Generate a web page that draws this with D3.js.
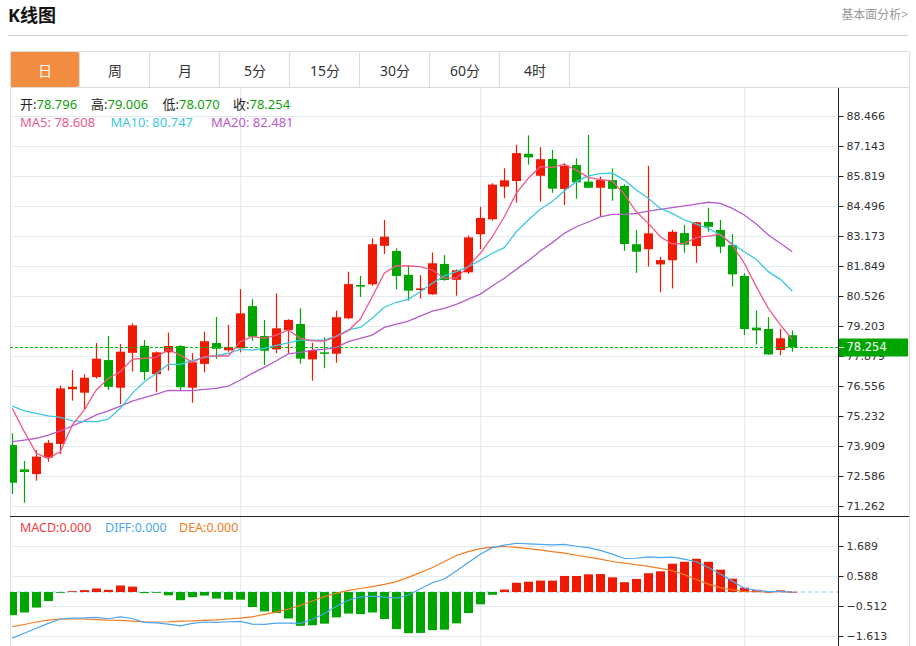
<!DOCTYPE html>
<html><head><meta charset="utf-8">
<script src="https://cdn.jsdelivr.net/npm/d3@7"></script>
<style>
body{margin:0;background:#fff;}
svg{display:block;font-family:"Noto Sans","Noto Sans CJK SC",sans-serif;}
</style></head><body>
<svg id="c" width="916" height="646"></svg>
<script>
// ---------- data ----------
const tabs = ["日","周","月","5分","15分","30分","60分","4时"];
const priceTicks = [88.466,87.143,85.819,84.496,83.173,81.849,80.526,79.203,77.879,76.556,75.232,73.909,72.586,71.262];
const macdTicks = [1.689,0.588,-0.512,-1.613];
const gridIdx = [19,39,61];
const lastPrice = 78.254;
const legendOHLC = [["开","78.796"],["高","79.006"],["低","78.070"],["收","78.254"]];
const legendMA = [["MA5: 78.608"],["MA10: 80.747"],["MA20: 82.481"]];
const legendMACD = [["MACD:0.000"],["DIFF:0.000"],["DEA:0.000"]];

const open = [73.95,72.88,72.67,73.39,74.00,76.41,76.26,76.95,77.70,76.48,
  78.02,78.33,77.08,78.04,78.32,76.48,77.53,78.45,78.13,78.22,
  80.08,78.76,78.17,79.02,79.29,77.73,78.04,77.98,79.54,81.01,
  81.04,82.74,82.51,81.46,80.79,80.60,81.94,81.24,81.57,83.25,
  83.91,85.35,85.60,86.80,85.83,86.57,85.25,86.30,85.57,85.30,
  85.64,85.38,82.81,82.59,81.92,82.10,83.30,82.73,83.79,83.44,
  82.77,81.41,79.13,79.07,78.14,78.796];
const close = [72.29,72.76,73.44,74.05,76.45,76.52,76.92,77.76,76.52,78.07,
  79.23,77.17,78.04,78.32,76.50,77.60,78.53,78.20,78.28,79.76,
  78.73,78.11,79.10,79.47,77.76,78.14,77.98,79.59,81.05,80.94,
  82.81,83.14,81.41,80.76,80.86,81.97,81.23,81.66,83.11,83.97,
  85.44,85.63,86.83,86.64,86.56,85.26,86.27,85.54,85.30,85.64,
  85.25,82.82,82.48,83.29,82.11,83.36,82.79,83.78,83.58,82.70,
  81.48,79.07,79.01,77.95,78.66,78.254];
const high = [74.47,73.25,73.73,74.17,76.57,77.26,77.07,78.46,78.76,78.41,
  79.32,78.58,78.08,78.91,78.36,78.00,78.95,79.60,79.25,80.83,
  80.38,79.47,80.64,79.50,79.98,78.46,78.70,79.88,81.60,81.41,
  83.07,83.88,82.63,81.88,81.44,82.45,82.33,81.70,83.19,84.46,
  85.50,86.16,87.19,87.61,87.09,86.97,86.38,86.60,87.63,85.79,
  86.16,85.45,83.44,86.27,82.26,83.44,83.66,83.80,84.42,83.88,
  83.26,81.53,79.88,79.59,79.07,79.006];
const low = [71.79,71.41,72.38,73.21,73.55,75.91,75.53,76.88,76.38,75.76,
  77.19,76.82,76.30,77.23,76.35,75.82,77.16,77.76,78.07,78.04,
  78.55,77.48,78.00,78.00,77.54,76.79,77.34,77.58,79.50,80.49,
  80.98,82.38,80.82,80.32,80.41,80.58,81.20,80.54,81.50,82.60,
  83.85,84.84,84.64,86.32,84.69,85.08,84.54,84.82,85.28,84.02,
  84.73,82.52,81.55,81.82,80.69,80.86,82.44,81.99,83.36,82.41,
  80.94,78.80,78.39,77.93,77.91,78.070];
const ma5 = [75.57,74.54,73.59,73.36,73.66,74.83,75.50,76.38,76.89,77.19,
  77.73,77.78,77.82,78.17,77.92,77.60,77.85,77.88,77.88,78.51,
  78.73,78.66,78.80,79.03,78.66,78.55,78.54,78.73,78.99,79.51,
  80.49,81.53,81.86,81.85,81.82,81.67,81.31,81.31,81.82,82.41,
  83.14,84.02,85.06,85.72,86.23,86.20,86.34,86.08,85.76,85.66,
  85.60,85.02,84.24,83.73,83.14,82.82,82.85,83.10,83.17,83.25,
  82.77,81.97,80.94,79.98,79.25,78.608];
const ma10 = [75.67,75.46,75.35,75.24,75.17,75.02,74.98,74.98,75.09,75.57,
  76.23,76.74,77.11,77.51,77.51,77.67,77.82,77.89,78.00,78.17,
  78.14,78.22,78.35,78.46,78.58,78.58,78.58,78.76,79.03,79.14,
  79.54,80.03,80.25,80.38,80.71,81.09,81.41,81.60,81.82,82.11,
  82.41,82.66,83.36,83.88,84.35,84.69,85.16,85.57,85.82,85.92,
  85.94,85.64,85.20,84.84,84.39,84.17,83.88,83.70,83.51,83.22,
  82.82,82.48,82.14,81.60,81.26,80.747];
const ma20 = [74.10,74.17,74.25,74.39,74.58,74.79,75.02,75.28,75.46,75.67,
  75.89,76.04,76.20,76.36,76.35,76.35,76.41,76.45,76.55,76.82,
  77.11,77.38,77.67,77.97,78.04,78.14,78.17,78.26,78.51,78.66,
  78.80,79.14,79.29,79.42,79.64,79.86,79.98,80.16,80.39,80.61,
  80.97,81.31,81.70,82.08,82.51,82.88,83.29,83.58,83.79,84.02,
  84.13,84.13,84.17,84.27,84.35,84.42,84.50,84.58,84.66,84.61,
  84.39,84.10,83.70,83.22,82.85,82.481];
const macd = [-0.85,-0.75,-0.57,-0.33,-0.02,0.03,0.07,0.13,0.08,0.24,
  0.20,-0.04,-0.02,-0.12,-0.30,-0.19,-0.13,-0.24,-0.28,-0.28,
  -0.55,-0.71,-0.77,-0.97,-1.24,-1.22,-1.16,-0.93,-0.79,-0.81,
  -0.75,-0.99,-1.36,-1.51,-1.50,-1.40,-1.38,-1.15,-0.77,-0.45,
  -0.10,0.09,0.34,0.38,0.42,0.42,0.59,0.59,0.65,0.66,
  0.54,0.36,0.48,0.69,0.76,1.04,1.11,1.22,1.11,0.82,
  0.49,0.16,0.08,0.01,0.06,0.01];
const diff = [-1.69,-1.51,-1.33,-1.15,-0.99,-0.96,-0.95,-0.93,-0.98,-0.91,
  -0.97,-1.11,-1.13,-1.18,-1.24,-1.15,-1.10,-1.11,-1.09,-1.08,
  -1.18,-1.19,-1.14,-1.14,-1.15,-1.01,-0.79,-0.52,-0.30,-0.19,
  -0.15,-0.19,-0.22,-0.12,0.12,0.34,0.48,0.77,1.08,1.39,
  1.63,1.72,1.79,1.77,1.75,1.73,1.75,1.68,1.63,1.53,
  1.39,1.23,1.24,1.29,1.26,1.28,1.21,1.11,0.90,0.66,
  0.40,0.14,0.06,0.02,0.02,0.00];
const dea = [-1.27,-1.19,-1.10,-1.03,-0.99,-0.99,-0.99,-1.01,-1.03,-1.04,
  -1.07,-1.10,-1.10,-1.09,-1.07,-1.06,-1.04,-1.02,-0.99,-0.96,
  -0.91,-0.82,-0.74,-0.63,-0.49,-0.33,-0.17,-0.05,0.06,0.13,
  0.20,0.28,0.38,0.54,0.71,0.90,1.12,1.34,1.48,1.59,
  1.65,1.67,1.64,1.59,1.55,1.48,1.43,1.35,1.28,1.21,
  1.12,1.06,1.00,0.94,0.87,0.78,0.64,0.46,0.29,0.16,
  0.08,0.02,0.01,0.01,0.01,0.00];

// ---------- layout ----------
const C = {red:"#f01a02", green:"#00a600", ma5:"#f0588a", ma10:"#3cc8e2", ma20:"#b65bcd",
  diff:"#4ba6ee", dea:"#f47b20", grid:"#e2eaf2", frame:"#dcdcdc"};
const L=10, AX=838, FR=909, TOP=88, MB=516, BOT=646;
const idx = open.map((d,i)=>i);
const candles = idx.map(i=>({i, o:open[i], h:high[i], l:low[i], c:close[i]}));

const svg = d3.select("#c");
const x = d3.scaleLinear().domain([0, open.length-1]).range([12.3, 792.3]);
const yP = d3.scaleLinear().domain([71.262, 88.466]).range([506, 116]);
const yM = d3.scaleLinear().domain([-1.613, 1.689]).range([636, 546]);
const BW = 9;

const defs = svg.append("defs");
defs.append("clipPath").attr("id","cm").append("rect").attr("x",L).attr("y",TOP).attr("width",AX-L).attr("height",MB-TOP);
defs.append("clipPath").attr("id","cd").append("rect").attr("x",L).attr("y",MB+1).attr("width",AX-L).attr("height",BOT-MB);

// header
svg.append("text").attr("x",8).attr("y",15).attr("dominant-baseline","central")
  .attr("font-size",18).attr("font-weight","bold").attr("fill","#111").text("K线图");
svg.append("text").attr("x",908).attr("y",14).attr("dominant-baseline","central").attr("text-anchor","end")
  .attr("font-size",12).attr("fill","#999").text("基本面分析>");
svg.append("line").attr("x1",8).attr("x2",908).attr("y1",35.5).attr("y2",35.5).attr("stroke","#cfcfcf");

// tabs
const tabW = 70, tabTop = 52;
svg.append("line").attr("x1",L).attr("x2",FR).attr("y1",tabTop-0.5).attr("y2",tabTop-0.5).attr("stroke",C.frame);
svg.append("rect").attr("x",L).attr("y",tabTop).attr("width",tabW-1).attr("height",TOP-tabTop-1)
  .attr("rx",2).attr("fill","#f28c40");
const tg = svg.append("g").selectAll("g").data(tabs).join("g");
tg.filter((d,i)=>i>0).append("line")
  .attr("x1",(d,i)=>L+tabW*(i+1)-0.5).attr("x2",(d,i)=>L+tabW*(i+1)-0.5)
  .attr("y1",tabTop).attr("y2",TOP).attr("stroke",C.frame);
svg.append("line").attr("x1",L+tabW*tabs.length-0.5).attr("x2",L+tabW*tabs.length-0.5)
  .attr("y1",tabTop).attr("y2",TOP).attr("stroke",C.frame);
tg.append("text").attr("x",(d,i)=>L+tabW*i+tabW/2).attr("y",70).attr("dominant-baseline","central")
  .attr("text-anchor","middle").attr("font-size",14).attr("fill",(d,i)=>i===0?"#fff":"#333").text(d=>d);

// frame
svg.append("line").attr("x1",L).attr("x2",FR).attr("y1",TOP-0.5).attr("y2",TOP-0.5).attr("stroke",C.frame);
svg.append("line").attr("x1",L+0.5).attr("x2",L+0.5).attr("y1",tabTop).attr("y2",BOT).attr("stroke","#d8e2ec");
svg.append("line").attr("x1",FR+0.5).attr("x2",FR+0.5).attr("y1",tabTop).attr("y2",BOT).attr("stroke",C.frame);

// grids
const gm = svg.append("g");
gm.selectAll(".hg").data(priceTicks).join("line")
  .attr("x1",L).attr("x2",AX).attr("y1",d=>Math.round(yP(d))+0.5).attr("y2",d=>Math.round(yP(d))+0.5)
  .attr("stroke",C.grid);
gm.selectAll(".hm").data(macdTicks).join("line")
  .attr("x1",L).attr("x2",AX).attr("y1",d=>Math.round(yM(d))+0.5).attr("y2",d=>Math.round(yM(d))+0.5)
  .attr("stroke",C.grid);
gm.selectAll(".vg").data(gridIdx).join("line")
  .attr("x1",d=>Math.round(x(d))+0.5).attr("x2",d=>Math.round(x(d))+0.5).attr("y1",TOP).attr("y2",BOT)
  .attr("stroke",C.grid);

// main panel
const main = svg.append("g").attr("clip-path","url(#cm)");
const cg = main.selectAll("g.cd").data(candles).join("g");
cg.append("line")
  .attr("x1",d=>Math.round(x(d.i))+0.5).attr("x2",d=>Math.round(x(d.i))+0.5)
  .attr("y1",d=>yP(d.h)).attr("y2",d=>yP(d.l))
  .attr("stroke",d=>d.c>=d.o?C.red:C.green).attr("stroke-width",1.2);
cg.append("rect")
  .attr("x",d=>Math.round(x(d.i))+0.5-BW/2).attr("width",BW)
  .attr("y",d=>yP(Math.max(d.o,d.c)))
  .attr("height",d=>Math.max(1.5, yP(Math.min(d.o,d.c))-yP(Math.max(d.o,d.c))))
  .attr("fill",d=>d.c>=d.o?C.red:C.green);

const lpY = Math.floor(yP(lastPrice))+0.5;
main.append("line").attr("x1",L).attr("x2",AX).attr("y1",lpY).attr("y2",lpY)
  .attr("stroke","#00c000").attr("stroke-width",1).attr("stroke-dasharray","3,2")
  .attr("shape-rendering","crispEdges");

const lineP = arr => d3.line().x((d,i)=>x(i)).y(d=>yP(d))(arr);
[[ma20,C.ma20],[ma10,C.ma10],[ma5,C.ma5]].forEach(([a,col])=>{
  main.append("path").attr("d",lineP(a)).attr("fill","none").attr("stroke",col).attr("stroke-width",1.3);
});

// macd panel
const mg = svg.append("g").attr("clip-path","url(#cd)");
mg.append("line").attr("x1",L).attr("x2",AX).attr("y1",yM(0)).attr("y2",yM(0))
  .attr("stroke","#b0def2").attr("stroke-width",1.5).attr("stroke-dasharray","4,3");
mg.selectAll("rect.b").data(macd).join("rect")
  .attr("x",(d,i)=>Math.round(x(i))+0.5-BW/2).attr("width",BW)
  .attr("y",d=>Math.min(yM(d),yM(0)))
  .attr("height",d=>Math.max(0.8, Math.abs(yM(d)-yM(0))))
  .attr("fill",d=>d>=0?C.red:C.green);
const lineM = arr => d3.line().x((d,i)=>x(i)).y(d=>yM(d))(arr);
mg.append("path").attr("d",lineM(dea)).attr("fill","none").attr("stroke",C.dea).attr("stroke-width",1.2);
mg.append("path").attr("d",lineM(diff)).attr("fill","none").attr("stroke",C.diff).attr("stroke-width",1.2);

// panel separator & axis line
svg.append("line").attr("x1",L).attr("x2",FR).attr("y1",MB+0.5).attr("y2",MB+0.5).attr("stroke","#222");
svg.append("line").attr("x1",AX+0.5).attr("x2",AX+0.5).attr("y1",TOP).attr("y2",BOT).attr("stroke","#222");

// axes
const axP = svg.append("g").attr("transform",`translate(${AX+0.5},0)`)
  .call(d3.axisRight(yP).tickValues(priceTicks).tickSize(5).tickPadding(3).tickFormat(d3.format(".3f")));
const axM = svg.append("g").attr("transform",`translate(${AX+0.5},0)`)
  .call(d3.axisRight(yM).tickValues(macdTicks).tickSize(5).tickPadding(3).tickFormat(d3.format(".3f")));
[axP,axM].forEach(a=>{
  a.select(".domain").remove();
  a.selectAll("line").attr("stroke","#222");
  a.selectAll("text").attr("font-family","DejaVu Sans").attr("font-size",11).attr("fill","#333");
});

// last price label
svg.append("rect").attr("x",AX+1).attr("y",yP(lastPrice)-9).attr("width",FR-AX-2).attr("height",18).attr("fill",C.green);
svg.append("line").attr("x1",AX+1).attr("x2",AX+6).attr("y1",yP(lastPrice)).attr("y2",yP(lastPrice)).attr("stroke","#fff");
svg.append("text").attr("x",AX+8.5).attr("y",yP(lastPrice)).attr("dy","0.32em")
  .attr("font-family","DejaVu Sans").attr("font-size",11.5).attr("fill","#fff").text(d3.format(".3f")(lastPrice));

// legends
const ohlcX = [20,91,162.5,233];
legendOHLC.forEach(([k,v],i)=>{
  const t = svg.append("text").attr("x",ohlcX[i]).attr("y",104).attr("dominant-baseline","central").attr("font-size",13);
  t.append("tspan").attr("fill","#222").text(k+":");
  t.append("tspan").attr("fill","#10a010").text(v);
});
const maX = [20,110.5,211], maC = [C.ma5,C.ma10,C.ma20];
legendMA.forEach(([s],i)=>{
  svg.append("text").attr("x",maX[i]).attr("y",122).attr("dominant-baseline","central").attr("font-size",13)
    .attr("fill",maC[i]).text(s);
});
const mX = [20,105,179], mC = ["#ee4040",C.diff,C.dea];
legendMACD.forEach(([s],i)=>{
  svg.append("text").attr("x",mX[i]).attr("y",527).attr("dominant-baseline","central").attr("font-size",12.5)
    .attr("fill",mC[i]).text(s);
});
</script>
</body></html>
